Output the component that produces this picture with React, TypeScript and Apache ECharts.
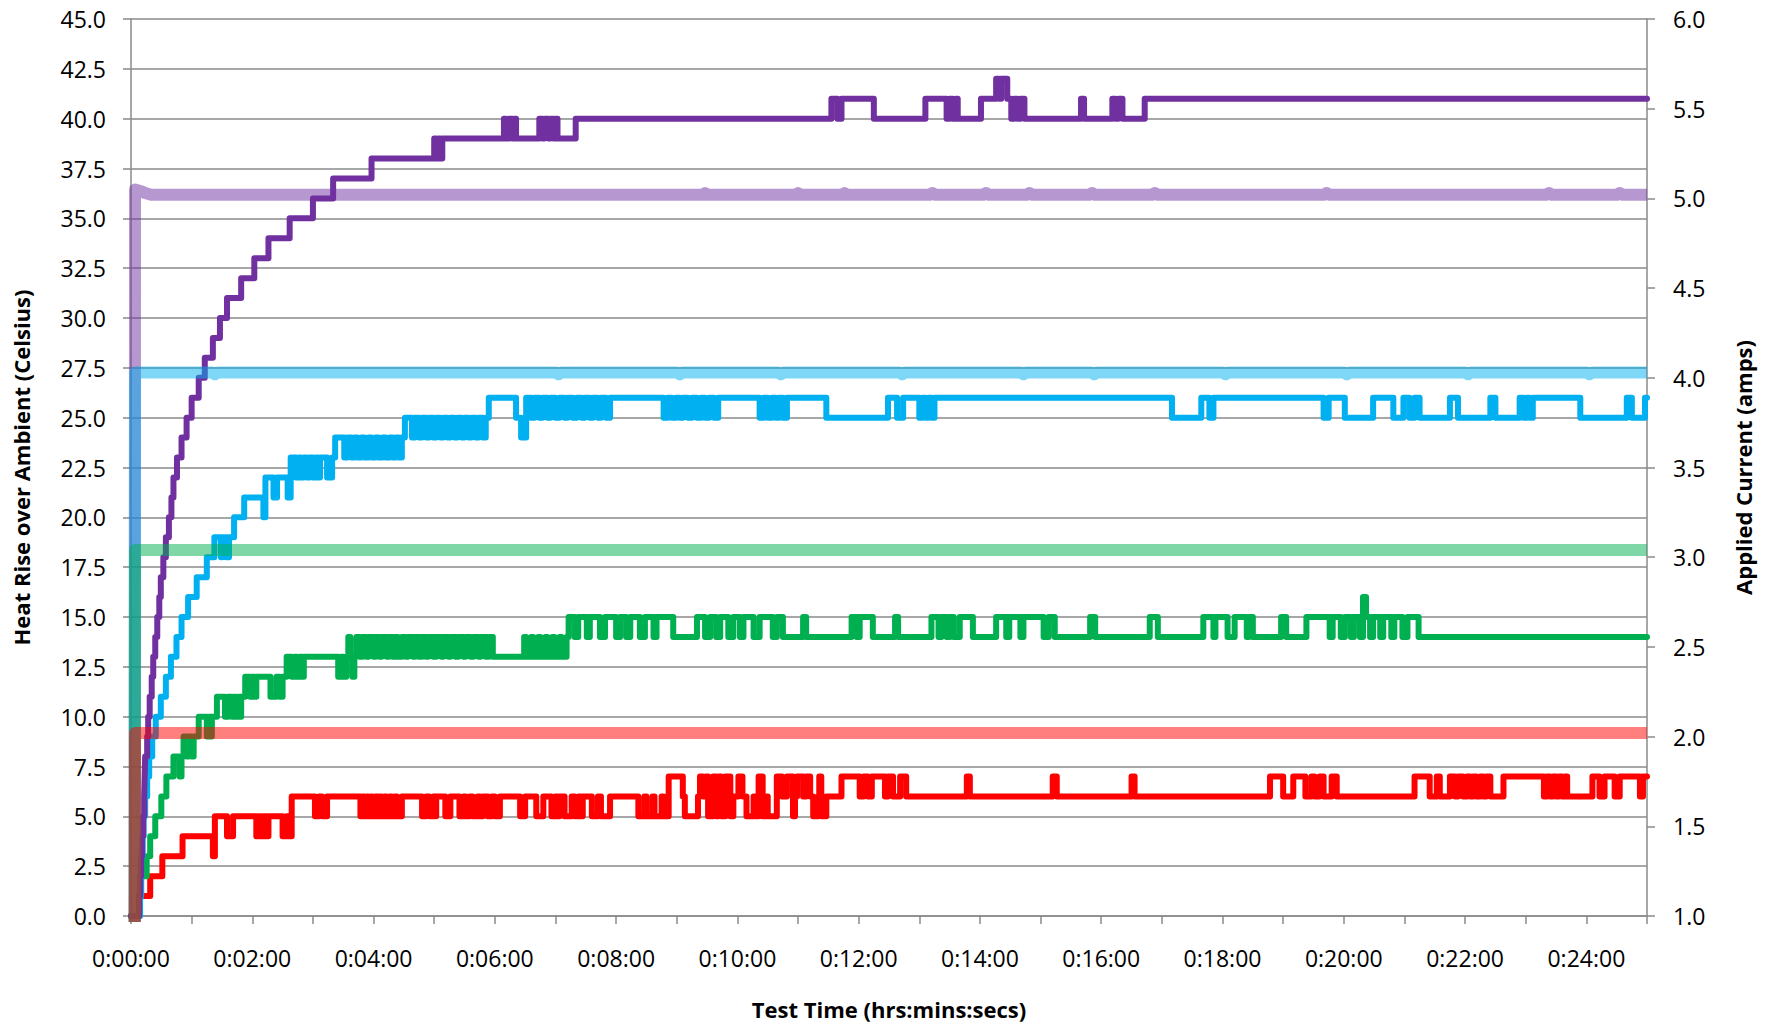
import { useEffect, useRef } from "react";
import * as echarts from "echarts";

// time in seconds, values in °C (temperature rise) — change points of the step traces
const RED_TEMP = [[0,0],[8,1],[19,2],[31,3],[51,4],[81,3],[83,5],[95,4],[101,5],[124,4],[127,5],[129,4],[131,5],[133,4],[136,5],[150,4],[154,5],[156,4],[159,6],[182,5],[186,6],[189,5],[194,6],[227,5],[229,6],[231,5],[233,6],[235,5],[237,6],[239,5],[242,6],[244,5],[246,6],[248,5],[251,6],[253,5],[256,6],[258,5],[261,6],[263,5],[268,6],[288,5],[292,6],[295,5],[299,6],[301,5],[302,6],[311,5],[316,6],[325,5],[329,6],[331,5],[335,6],[338,5],[343,6],[345,5],[348,6],[353,5],[357,6],[360,5],[365,6],[385,5],[390,6],[401,5],[408,6],[416,5],[420,6],[422,5],[424,6],[429,5],[436,6],[439,5],[443,6],[445,5],[447,6],[456,5],[462,6],[465,5],[474,6],[502,5],[508,6],[510,5],[516,6],[518,5],[525,6],[527,5],[532,7],[546,6],[548,5],[561,6],[563,7],[566,6],[569,7],[571,5],[576,7],[579,5],[581,7],[584,5],[588,7],[593,5],[596,6],[601,7],[605,6],[609,5],[616,6],[617,5],[621,7],[625,5],[629,6],[630,5],[639,7],[644,6],[649,7],[655,5],[657,6],[659,7],[665,6],[668,7],[672,6],[675,5],[680,6],[681,7],[683,5],[688,6],[703,7],[721,6],[725,7],[729,6],[733,7],[746,6],[749,7],[754,6],[761,7],[767,6],[827,7],[830,6],[912,7],[916,6],[990,7],[993,6],[1127,7],[1140,6],[1150,7],[1162,6],[1168,7],[1171,6],[1176,7],[1180,6],[1188,7],[1193,6],[1270,7],[1285,6],[1292,7],[1295,6],[1305,7],[1310,6],[1313,7],[1318,6],[1322,7],[1325,6],[1328,7],[1331,6],[1335,7],[1338,6],[1341,7],[1345,6],[1358,7],[1398,6],[1401,7],[1404,6],[1407,7],[1410,6],[1413,7],[1416,6],[1419,7],[1421,6],[1446,7],[1453,6],[1458,7],[1468,6],[1473,7],[1493,6],[1496,7],[1500,7]];

const GREEN_TEMP = [[0,0],[8,1],[10,2],[15.5,3],[19,4],[24,5],[30,6],[35,7],[42,8],[48,7],[50,8],[52,9],[55,8],[57,9],[60,8],[62,9],[67,10],[75,9],[77,10],[79,9],[80,10],[85,11],[93,10],[96,11],[100,10],[102,11],[104,10],[106,11],[108,10],[109,11],[113,12],[118,11],[120,12],[122,11],[124,12],[138,11],[144,12],[147,11],[150,12],[154,13],[159,12],[162,13],[164,12],[167,13],[169,12],[171,13],[205,12],[208,13],[210,12],[213,13],[215,14],[217,13],[219,12],[221,13],[223,14],[226,13],[229,14],[233,13],[235,14],[240,13],[242,14],[246,13],[248,14],[253,13],[255,14],[259,13],[262,14],[264,13],[268,14],[272,13],[274,14],[279,13],[281,14],[285,13],[288,14],[292,13],[294,14],[299,13],[302,14],[307,13],[309,14],[314,13],[316,14],[321,13],[324,14],[329,13],[331,14],[336,13],[339,14],[344,13],[346,14],[351,13],[354,14],[358,13],[361,13],[389,14],[391,13],[396,14],[398,13],[403,14],[405,13],[410,14],[412,13],[417,14],[419,13],[424,14],[426,13],[431,14],[433,15],[439,14],[442.5,15],[451,14],[454,15],[464,14],[469,15],[480,14],[484,15],[490,14],[494,15],[503.5,14],[508.5,15],[517,14],[520,15],[536.5,14],[560,15],[568,14],[573,15],[579,14],[583,15],[591,14],[596,15],[602.5,14],[606,15],[616,14],[622,15],[635,14],[639,15],[645,14],[665,15],[668,14],[713,15],[718,14],[721,15],[734,14],[756,15],[759,14],[792,15],[799,14],[802,15],[807,14],[810,15],[814,14],[820,15],[833,14],[856,15],[866,14],[869,15],[880,14],[883,15],[903,14],[908,15],[914,14],[949,15],[954,14],[1008,15],[1016,14],[1061,15],[1071,14],[1073,15],[1085,14],[1092,15],[1104,14],[1106,15],[1110,14],[1138,15],[1143,14],[1163,15],[1186,14],[1189,15],[1197,14],[1201,15],[1207,14],[1210,15],[1216,14],[1219,16],[1222,15],[1226,14],[1229,15],[1236,14],[1239,15],[1247,14],[1250,15],[1258,14],[1263,15],[1274,14],[1500,14]];

const BLUE_TEMP = [[0,0],[9,1],[10,3],[11.5,4],[12.5,5],[14,6],[16,7],[18,8],[21,9],[24.5,10],[29.5,11],[34.5,12],[39.5,13],[45,14],[50,15],[56.5,16],[65,17],[75,18],[82.5,19],[89,18],[90.5,19],[94,18],[97,19],[102,20],[112,21],[131,20],[133,22],[141,21],[144.5,22],[155,21],[158,23],[163,22],[166,23],[168,22],[171,23],[174,22],[177,23],[180,22],[183,23],[185,22],[187,23],[194,22],[199,23],[202,24],[211,23],[214,24],[218,23],[221,24],[224,23],[228,24],[231,23],[235,24],[238,23],[242,24],[245,23],[249,24],[252,23],[256,24],[259,23],[262,24],[265,23],[268,24],[271,25],[278,24],[281,25],[285,24],[288,25],[292,24],[295,25],[299,24],[302,25],[306,24],[309,25],[313,24],[316,25],[320,24],[323,25],[327,24],[330,25],[334,24],[337,25],[341,24],[344,25],[348,24],[351,25],[354,26],[381,25],[386,24],[391,26],[396,25],[399,26],[404,25],[407,26],[412,25],[415,26],[420,25],[424,26],[429,25],[432,26],[437,25],[441,26],[446,25],[449,26],[454,25],[457,26],[462,25],[465,26],[470,25],[474,26],[527,25],[531,26],[535,25],[539,26],[543,25],[546,26],[551,25],[555,26],[560,25],[564,26],[568,25],[572,26],[577,25],[581,26],[622,25],[626,26],[630,25],[634,26],[638,25],[641,26],[645,25],[649,26],[688,25],[749,26],[758,25],[764,26],[780,25],[783,26],[786,25],[789,26],[792,25],[795,26],[1030,25],[1059,26],[1067,25],[1071,26],[1180,25],[1185,26],[1201,25],[1229,26],[1249,25],[1259,26],[1265,25],[1270,26],[1275,25],[1305,26],[1313,25],[1345,26],[1350,25],[1374,26],[1378,25],[1381,26],[1384,25],[1387,26],[1434,25],[1480,26],[1485,25],[1498,26],[1500,26]];

const PURPLE_TEMP = [[0,0],[8,1],[9,2],[10,3],[11,4],[12,5],[13,6],[13.5,7],[14,8],[16,9],[17,10],[18.5,11],[20.5,12],[22,13],[24,14],[26,15],[28,16],[29.5,17],[32,18],[34.5,19],[37.5,20],[40,21],[42,22],[45.5,23],[50,24],[55,25],[60,26],[67,27],[73,28],[81,29],[88,30],[95,31],[109,32],[122,33],[136,34],[157,35],[180,36],[200,37],[238,38],[300,39],[302,38],[304,39],[306,38],[308,39],[369,40],[371,39],[374,40],[377,39],[379,40],[381,39],[404,40],[407,39],[409,40],[413,39],[415,40],[418,39],[420,40],[422,39],[440,40],[693,41],[699,40],[703,41],[735,40],[786,41],[807,40],[810,41],[813,40],[816,41],[818,40],[841,41],[856,42],[859,41],[861,42],[867,41],[871,40],[874,41],[877,40],[880,41],[884,40],[940,41],[943,40],[971,41],[974,40],[977,41],[981,40],[1003,41],[1500,41]];

// applied current, amps
const PURPLE_AMPS = [[0,0],[3.5,0],[4,5.05],[10,5.04],[14,5.03],[20,5.02],[566,5.02],[568,5.03],[570,5.02],[658,5.02],[660,5.03],[662,5.02],[704,5.02],[706,5.03],[708,5.02],[790,5.02],[793,5.03],[796,5.02],[843,5.02],[846,5.03],[849,5.02],[886,5.02],[889,5.03],[892,5.02],[948,5.02],[951,5.03],[954,5.02],[1010,5.02],[1013,5.03],[1016,5.02],[1180,5.02],[1183,5.03],[1186,5.02],[1400,5.02],[1403,5.03],[1406,5.02],[1470,5.02],[1473,5.03],[1476,5.02],[1500,5.02]];
const BLUE_AMPS = [[0,0],[3.5,0],[4,4.03],[80,4.03],[83,4.02],[86,4.03],[420,4.03],[423,4.02],[426,4.03],[540,4.03],[543,4.02],[546,4.03],[640,4.03],[643,4.02],[646,4.03],[760,4.03],[763,4.02],[766,4.03],[880,4.03],[883,4.02],[886,4.03],[950,4.03],[953,4.02],[956,4.03],[1080,4.03],[1083,4.02],[1086,4.03],[1200,4.03],[1203,4.02],[1206,4.03],[1320,4.03],[1323,4.02],[1326,4.03],[1440,4.03],[1443,4.02],[1446,4.03],[1500,4.03]];
const GREEN_AMPS = [[0,0],[3.5,0],[4,3.04],[1500,3.04]];
const RED_AMPS = [[0,0],[3.5,0],[4,2.02],[1500,2.02]];

const TIME_MIN = 0;
const TIME_MAX = 1500;
const TIME_TICK = 60;
const TIME_LABEL_EVERY = 120;
const TEMP_MIN = 0, TEMP_MAX = 45, TEMP_STEP = 2.5;
const AMP_MIN = 1, AMP_MAX = 6, AMP_STEP = 0.5;

const X_TITLE = "Test Time (hrs:mins:secs)";
const Y_TITLE = "Heat Rise over Ambient (Celsius)";
const Y2_TITLE = "Applied Current (amps)";

const COLORS = { red: "#ff0000", green: "#00b050", blue: "#00b0f0", purple: "#7030a0" };

const pad = (n: number) => (n < 10 ? "0" + n : "" + n);
const fmtTime = (v: number) => {
  if (Math.round(v) % TIME_LABEL_EVERY !== 0) return "";
  const h = Math.floor(v / 3600);
  const m = Math.floor((v % 3600) / 60);
  const s = Math.round(v % 60);
  return `${h}:${pad(m)}:${pad(s)}`;
};

const GRAY = "#8a8a8a";
const FONT = "Open Sans";

export default function App() {
  const ref = useRef<HTMLDivElement>(null);
  useEffect(() => {
    if (!ref.current) return;
    const chart = echarts.init(ref.current, null, { renderer: "svg" });
    const tempSeries = (name: string, data: number[][], color: string) => ({
      name, type: "line", yAxisIndex: 0, data, step: "end", showSymbol: false, symbol: "none",
      lineStyle: { color, width: 6, cap: "round", join: "round" },
      z: 2,
    });
    const ampSeries = (name: string, data: number[][], color: string, z: number) => ({
      name, type: "line", yAxisIndex: 1, data, showSymbol: false, symbol: "none",
      lineStyle: { color, width: 12, opacity: 0.5, cap: "butt", join: "round" },
      z,
    });
    const titleStyle = { fontSize: 22, fontWeight: "bold", color: "#000", fontFamily: FONT };
    const option: any = {
      animation: false,
      backgroundColor: "#ffffff",
      textStyle: { fontFamily: FONT },
      grid: { left: 131, right: 122, top: 19, bottom: 110, containLabel: false },
      xAxis: {
        type: "value", min: TIME_MIN, max: TIME_MAX, interval: TIME_TICK,
        name: X_TITLE, nameLocation: "middle", nameGap: 82,
        nameTextStyle: titleStyle,
        axisLine: { show: true, onZero: false, lineStyle: { color: GRAY, width: 1.5 } },
        axisTick: { show: true, length: 8, lineStyle: { color: GRAY, width: 1.5 } },
        axisLabel: { formatter: fmtTime, margin: 30, fontSize: 23, color: "#000", fontFamily: FONT, showMinLabel: true, showMaxLabel: true },
        splitLine: { show: false },
      },
      yAxis: [
        {
          type: "value", min: TEMP_MIN, max: TEMP_MAX, interval: TEMP_STEP, position: "left",
          name: Y_TITLE, nameLocation: "middle", nameGap: 99,
          nameTextStyle: titleStyle,
          axisLine: { show: true, lineStyle: { color: GRAY, width: 1.5 } },
          axisTick: { show: true, length: 8, lineStyle: { color: GRAY, width: 1.5 } },
          axisLabel: { formatter: (v: number) => v.toFixed(1), margin: 25, fontSize: 23, color: "#000", fontFamily: FONT, showMinLabel: true, showMaxLabel: true },
          splitLine: { show: true, lineStyle: { color: GRAY, width: 1.5 } },
        },
        {
          type: "value", min: AMP_MIN, max: AMP_MAX, interval: AMP_STEP, position: "right",
          name: Y2_TITLE, nameLocation: "middle", nameGap: 85,
          nameTextStyle: titleStyle,
          axisLine: { show: true, lineStyle: { color: GRAY, width: 1.5 } },
          axisTick: { show: true, length: 8, lineStyle: { color: GRAY, width: 1.5 } },
          axisLabel: { formatter: (v: number) => v.toFixed(1), margin: 26, fontSize: 23, color: "#000", fontFamily: FONT, showMinLabel: true, showMaxLabel: true },
          splitLine: { show: false },
        },
      ],
      series: [
        tempSeries("Red temperature", RED_TEMP, COLORS.red),
        tempSeries("Green temperature", GREEN_TEMP, COLORS.green),
        tempSeries("Blue temperature", BLUE_TEMP, COLORS.blue),
        tempSeries("Purple temperature", PURPLE_TEMP, COLORS.purple),
        ampSeries("Purple current", PURPLE_AMPS, COLORS.purple, 3),
        ampSeries("Blue current", BLUE_AMPS, COLORS.blue, 4),
        ampSeries("Green current", GREEN_AMPS, COLORS.green, 5),
        ampSeries("Red current", RED_AMPS, COLORS.red, 6),
      ],
    };
    chart.setOption(option);
    return () => chart.dispose();
  }, []);
  return (
    <div
      ref={ref}
      style={{ position: "fixed", left: 0, top: 0, width: 1769, height: 1026, background: "#fff" }}
    />
  );
}
